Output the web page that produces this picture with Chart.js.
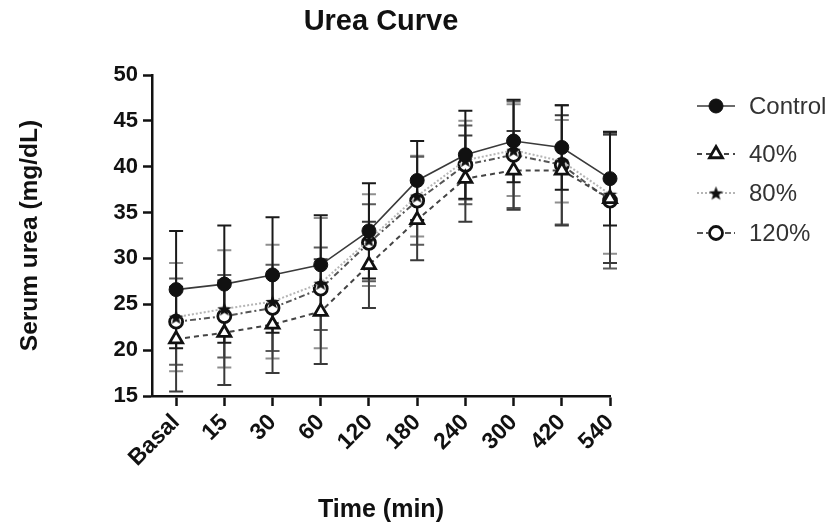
<!DOCTYPE html>
<html>
<head>
<meta charset="utf-8">
<script src="https://cdn.jsdelivr.net/npm/chart.js@4.4.1/dist/chart.umd.min.js"></script>
<style>
  html, body { margin: 0; padding: 0; background: #fff; }
  #wrap { width: 832px; height: 529px; }
</style>
</head>
<body>
<div id="wrap"><canvas id="c" width="832" height="529"></canvas></div>
<script>
// ---- data ----
const categories = ['Basal', '15', '30', '60', '120', '180', '240', '300', '420', '540'];
const seriesNames = ['Control', '40%', '80%', '120%'];
const controlMean = [26.6, 27.2, 28.2, 29.3, 33.0, 38.5, 41.3, 42.8, 42.1, 38.7];
const controlSD   = [6.4, 6.4, 6.3, 5.4, 5.2, 4.3, 4.8, 4.5, 4.6, 5.1];
const p40Mean     = [21.2, 21.9, 22.8, 24.2, 29.3, 34.2, 38.7, 39.6, 39.6, 36.5];
const p40SD       = [5.7, 5.7, 5.3, 5.7, 4.7, 4.4, 4.7, 4.3, 6.0, 7.0];
const p80Mean     = [23.6, 24.5, 25.3, 27.3, 32.0, 36.8, 40.7, 41.8, 40.6, 37.0];
const p80SD       = [5.9, 6.4, 6.2, 7.1, 5.0, 4.4, 4.3, 5.0, 4.5, 6.5];
const p120Mean    = [23.1, 23.7, 24.6, 26.7, 31.7, 36.3, 40.2, 41.3, 40.2, 36.3];
const p120SD      = [4.7, 4.5, 4.7, 4.5, 4.2, 4.8, 4.3, 5.8, 6.5, 7.4];
const yTicks = [15, 20, 25, 30, 35, 40, 45, 50];
const chartTitle = 'Urea Curve';

const FONT = '"Liberation Sans", Arial, sans-serif';

// star marker image
function makeStar(size, color) {
  const cv = document.createElement('canvas');
  cv.width = size; cv.height = size;
  const c = cv.getContext('2d');
  const cx = size / 2, cy = size / 2, R = size / 2, r = R * 0.42;
  c.beginPath();
  for (let i = 0; i < 10; i++) {
    const rad = i % 2 === 0 ? R : r;
    const a = -Math.PI / 2 + i * Math.PI / 5;
    const x = cx + rad * Math.cos(a), y = cy + rad * Math.sin(a) + size * 0.05;
    if (i === 0) c.moveTo(x, y); else c.lineTo(x, y);
  }
  c.closePath();
  c.fillStyle = color; c.fill();
  return cv;
}
const starImg = makeStar(15, '#111');

function pts(arr) { return arr.map((v, i) => ({ x: i, y: v })); }

const sds = [controlSD, p40SD, p80SD, p120SD];
const barColors = ['#1a1a1a', '#3a3a3a', '#8f8f8f', '#5a5a5a'];

const datasets = [
  { label: seriesNames[0], data: pts(controlMean), borderColor: '#3a3a3a', borderWidth: 1.6, borderDash: [],
    pointStyle: 'circle', pointRadius: 7, pointBackgroundColor: '#111', pointBorderColor: '#111', pointBorderWidth: 1 },
  { label: seriesNames[1], data: pts(p40Mean), borderColor: '#444', borderWidth: 2, borderDash: [5, 4],
    pointStyle: 'triangle', pointRadius: 7.5, pointBackgroundColor: '#fff', pointBorderColor: '#111', pointBorderWidth: 2.8 },
  { label: seriesNames[2], data: pts(p80Mean), borderColor: '#b5b5b5', borderWidth: 2, borderDash: [2, 2],
    pointStyle: starImg, pointRadius: 7, pointBackgroundColor: '#111', pointBorderColor: '#111', pointBorderWidth: 1 },
  { label: seriesNames[3], data: pts(p120Mean), borderColor: '#555', borderWidth: 2, borderDash: [6, 3, 2, 3],
    pointStyle: 'circle', pointRadius: 6.5, pointBackgroundColor: '#fff', pointBorderColor: '#111', pointBorderWidth: 2.8 }
];
datasets.forEach(d => { d.fill = false; d.tension = 0; d.clip = false; });

const errorBars = {
  id: 'errorBars',
  beforeDatasetsDraw(chart) {
    const ctx = chart.ctx;
    const xs = chart.scales.x, ys = chart.scales.y;
    ctx.save();
    [2, 3, 1, 0].forEach((di) => {
      const ds = chart.data.datasets[di];
      ctx.strokeStyle = barColors[di];
      ctx.lineWidth = 2;
      ds.data.forEach((p, i) => {
        const sd = sds[di][i];
        const x = xs.getPixelForValue(p.x);
        const yt = ys.getPixelForValue(p.y + sd);
        const yb = ys.getPixelForValue(p.y - sd);
        ctx.beginPath();
        ctx.moveTo(x, yt); ctx.lineTo(x, yb);
        ctx.moveTo(x - 7, yt); ctx.lineTo(x + 7, yt);
        ctx.moveTo(x - 7, yb); ctx.lineTo(x + 7, yb);
        ctx.stroke();
      });
    });
    ctx.restore();
  }
};

const titleAndLegend = {
  id: 'titleAndLegend',
  afterDraw(chart) {
    const ctx = chart.ctx;
    const area = chart.chartArea;
    ctx.save();
    // title centred over the plot area
    ctx.fillStyle = '#111';
    ctx.font = 'bold 29px ' + FONT;
    ctx.textAlign = 'center';
    ctx.textBaseline = 'middle';
    ctx.fillText(chartTitle, (area.left + area.right) / 2, 22);

    // legend
    const rows = [106, 154, 193, 233];
    chart.data.datasets.forEach((ds, i) => {
      const y = rows[i];
      ctx.strokeStyle = ds.borderColor;
      ctx.lineWidth = ds.borderWidth;
      ctx.setLineDash(ds.borderDash);
      ctx.beginPath(); ctx.moveTo(697, y); ctx.lineTo(735, y); ctx.stroke();
      ctx.setLineDash([]);
      ctx.fillStyle = ds.pointBackgroundColor;
      ctx.strokeStyle = ds.pointBorderColor;
      ctx.lineWidth = ds.pointBorderWidth;
      Chart.helpers.drawPoint(ctx, { pointStyle: ds.pointStyle, radius: ds.pointRadius, rotation: 0, borderWidth: ds.pointBorderWidth }, 716, y);
      ctx.fillStyle = '#333';
      ctx.font = '24px ' + FONT;
      ctx.textBaseline = 'middle';
      ctx.textAlign = 'left';
      ctx.fillText(ds.label, 749, y + 1);
    });
    ctx.restore();
  }
};

new Chart(document.getElementById('c'), {
  type: 'line',
  data: { datasets },
  plugins: [errorBars, titleAndLegend],
  options: {
    responsive: false,
    animation: false,
    events: [],
    layout: { padding: { left: 0, right: 222, top: 75, bottom: 0 } },
    plugins: {
      legend: { display: false },
      tooltip: { enabled: false },
      title: { display: false }
    },
    scales: {
      x: {
        type: 'linear', min: -0.5, max: 9,
        afterBuildTicks(scale) { scale.ticks = categories.map((c, i) => ({ value: i })); },
        afterFit(scale) { scale.height = 133; },
        ticks: {
          autoSkip: false, minRotation: 45, maxRotation: 45, color: '#111',
          font: { family: FONT, weight: 'bold', size: 23 },
          padding: 3,
          callback: (v) => categories[v]
        },
        grid: { drawOnChartArea: false, drawTicks: true, tickLength: 10, tickColor: '#111', tickWidth: 2.5 },
        border: { display: true, color: '#111', width: 2.5 },
        title: {
          display: true, text: 'Time (min)', color: '#111',
          font: { family: FONT, weight: 'bold', size: 25 },
          padding: { top: 0, bottom: 4 }
        }
      },
      y: {
        min: 15, max: 50,
        afterBuildTicks(scale) { scale.ticks = yTicks.map(v => ({ value: v })); },
        afterFit(scale) { scale.width = 152; },
        ticks: { color: '#111', font: { family: FONT, weight: 'bold', size: 22 }, padding: 5 },
        grid: { drawOnChartArea: false, drawTicks: true, tickLength: 9, tickColor: '#111', tickWidth: 2.5 },
        border: { display: true, color: '#111', width: 2.5 },
        title: {
          display: true, text: 'Serum urea (mg/dL)', color: '#111',
          font: { family: FONT, weight: 'bold', size: 24.5 },
          padding: { top: 16, bottom: 0 }
        }
      }
    }
  }
});
</script>
</body>
</html>
